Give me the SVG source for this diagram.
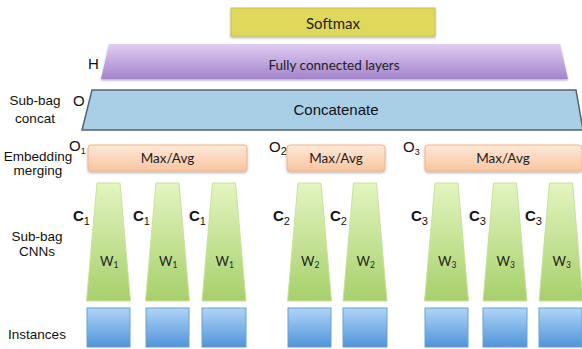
<svg xmlns="http://www.w3.org/2000/svg" width="582" height="349" viewBox="0 0 582 349">
<defs>
  <linearGradient id="gPurple" x1="0" y1="0" x2="0" y2="1">
    <stop offset="0" stop-color="#e0cdf3"/>
    <stop offset="1" stop-color="#a384cc"/>
  </linearGradient>
  <linearGradient id="gPeach" x1="0" y1="0" x2="0" y2="1">
    <stop offset="0" stop-color="#fde8d8"/>
    <stop offset="1" stop-color="#f9c6a0"/>
  </linearGradient>
  <linearGradient id="gGreen" x1="0" y1="0" x2="0" y2="1">
    <stop offset="0" stop-color="#e3f5c0"/>
    <stop offset="1" stop-color="#a6d06b"/>
  </linearGradient>
  <linearGradient id="gBlue" x1="0" y1="0" x2="0" y2="1">
    <stop offset="0" stop-color="#b0d5f7"/>
    <stop offset="1" stop-color="#4f94d9"/>
  </linearGradient>
  <filter id="sh" x="-5%" y="-20%" width="110%" height="150%">
    <feDropShadow dx="0" dy="1.5" stdDeviation="1.2" flood-color="#000" flood-opacity="0.3"/>
  </filter>
</defs>
<style>
  .lbl { font-family: "Liberation Sans", Arial, sans-serif; font-size: 13.5px; fill: #111; text-anchor: middle; }
  .sym { font-family: "Liberation Sans", Arial, sans-serif; font-size: 15px; fill: #111; }
  .c { font-family: "Liberation Sans", Arial, sans-serif; font-size: 15px; font-weight: bold; fill: #111; }
  .cal { font-family: Lato, "Open Sans", sans-serif; fill: #222; text-anchor: middle; }
  .peach { fill: url(#gPeach); stroke: #f5b488; stroke-width: 1; }
  .green { fill: url(#gGreen); stroke: #c7e39a; stroke-width: 1; stroke-linejoin: round; }
  .blue { fill: url(#gBlue); stroke: #6aa0d2; stroke-width: 1; }
  .w { font-family: Lato, "Open Sans", sans-serif; font-size: 13px; fill: #222; }
</style>

<!-- Left labels -->
<g id="labels">
  <text class="lbl" x="35" y="105">Sub-bag</text>
  <text class="lbl" x="35" y="123">concat</text>
  <text class="lbl" x="38" y="161" font-size="13">Embedding</text>
  <text class="lbl" x="38" y="175">merging</text>
  <text class="lbl" x="37" y="241">Sub-bag</text>
  <text class="lbl" x="37" y="256">CNNs</text>
  <text class="lbl" x="37" y="339">Instances</text>
</g>

<g id="softmax">
  <rect x="231" y="8" width="204" height="28" fill="#e0d85a" stroke="#c9c24a" stroke-width="1" filter="url(#sh)"/>
  <text class="cal" x="333" y="29" font-size="15">Softmax</text>
</g>

<g id="fc">
  <text class="sym" x="88" y="69">H</text>
  <polygon points="109,44 560,44 568,79 101,79" fill="url(#gPurple)" filter="url(#sh)"/>
  <text class="cal" x="334" y="70" font-size="13.5">Fully connected layers</text>
</g>

<g id="concat">
  <text class="sym" x="73" y="106">O</text>
  <polygon points="92,90 576,90 583,130 82,130" fill="#a9cfe7" stroke="#56636e" stroke-width="1.5"/>
  <text x="336" y="115" font-family="Liberation Sans, Arial, sans-serif" font-size="15" fill="#111" text-anchor="middle">Concatenate</text>
</g>

<g id="merge1">
  <text class="sym" x="69" y="151">O<tspan font-size="9" dy="3">1</tspan></text>
  <rect class="peach" x="88" y="145" width="159" height="26" rx="3" filter="url(#sh)"/>
  <text class="cal" x="167.5" y="163" font-size="13.5">Max/Avg</text>
</g>
<g id="merge2">
  <text class="sym" x="269" y="152">O<tspan font-size="11" dy="3">2</tspan></text>
  <rect class="peach" x="287" y="145" width="98" height="26" rx="3" filter="url(#sh)"/>
  <text class="cal" x="336" y="163" font-size="13.5">Max/Avg</text>
</g>
<g id="merge3">
  <text class="sym" x="403" y="152">O<tspan font-size="9" dy="3">3</tspan></text>
  <rect class="peach" x="425" y="145" width="157" height="26" rx="3" filter="url(#sh)"/>
  <text class="cal" x="503" y="163" font-size="13.5">Max/Avg</text>
</g>

<!-- CNN trapezoids -->
<g id="cnn1a">
  <text class="c" x="73" y="221">C<tspan font-size="11" font-weight="normal" dy="4">1</tspan></text>
  <polygon class="green" points="97,183 120,183 130.5,301 86.5,301"/>
  <text class="w" x="100" y="266">W<tspan font-size="8.5" dy="2">1</tspan></text>
</g>
<g id="cnn1b">
  <text class="c" x="133" y="221">C<tspan font-size="11" font-weight="normal" dy="4">1</tspan></text>
  <polygon class="green" points="156,183 179,183 189.5,301 145.5,301"/>
  <text class="w" x="159" y="266">W<tspan font-size="8.5" dy="2">1</tspan></text>
</g>
<g id="cnn1c">
  <text class="c" x="189" y="221">C<tspan font-size="11" font-weight="normal" dy="4">1</tspan></text>
  <polygon class="green" points="212.5,183 235.5,183 246,301 202,301"/>
  <text class="w" x="215.5" y="266">W<tspan font-size="8.5" dy="2">1</tspan></text>
</g>
<g id="cnn2a">
  <text class="c" x="273" y="221">C<tspan font-size="11" font-weight="normal" dy="4">2</tspan></text>
  <polygon class="green" points="298,183 321,183 331.5,301 287.5,301"/>
  <text class="w" x="301" y="266">W<tspan font-size="8.5" dy="2">2</tspan></text>
</g>
<g id="cnn2b">
  <text class="c" x="330" y="221">C<tspan font-size="11" font-weight="normal" dy="4">2</tspan></text>
  <polygon class="green" points="353.5,183 376.5,183 387,301 343,301"/>
  <text class="w" x="356.5" y="266">W<tspan font-size="8.5" dy="2">2</tspan></text>
</g>
<g id="cnn3a">
  <text class="c" x="411" y="221">C<tspan font-size="11" font-weight="normal" dy="4">3</tspan></text>
  <polygon class="green" points="435,183 458,183 468.5,301 424.5,301"/>
  <text class="w" x="438" y="266">W<tspan font-size="8.5" dy="2">3</tspan></text>
</g>
<g id="cnn3b">
  <text class="c" x="469" y="221">C<tspan font-size="11" font-weight="normal" dy="4">3</tspan></text>
  <polygon class="green" points="493.5,183 516.5,183 527,301 483,301"/>
  <text class="w" x="496.5" y="266">W<tspan font-size="8.5" dy="2">3</tspan></text>
</g>
<g id="cnn3c">
  <text class="c" x="525" y="221">C<tspan font-size="11" font-weight="normal" dy="4">3</tspan></text>
  <polygon class="green" points="549.5,183 572.5,183 583,301 539,301"/>
  <text class="w" x="552.5" y="266">W<tspan font-size="8.5" dy="2">3</tspan></text>
</g>

<!-- Instances -->
<g id="inst1a"><rect class="blue" x="87" y="308" width="43" height="39"/></g>
<g id="inst1b"><rect class="blue" x="146" y="308" width="43" height="39"/></g>
<g id="inst1c"><rect class="blue" x="202" y="308" width="44" height="39"/></g>
<g id="inst2a"><rect class="blue" x="288" y="308" width="43" height="39"/></g>
<g id="inst2b"><rect class="blue" x="343" y="308" width="44" height="39"/></g>
<g id="inst3a"><rect class="blue" x="425" y="308" width="43" height="39"/></g>
<g id="inst3b"><rect class="blue" x="483" y="308" width="44" height="39"/></g>
<g id="inst3c"><rect class="blue" x="539" y="308" width="43" height="39"/></g>

<g id="connectors"/>
</svg>
